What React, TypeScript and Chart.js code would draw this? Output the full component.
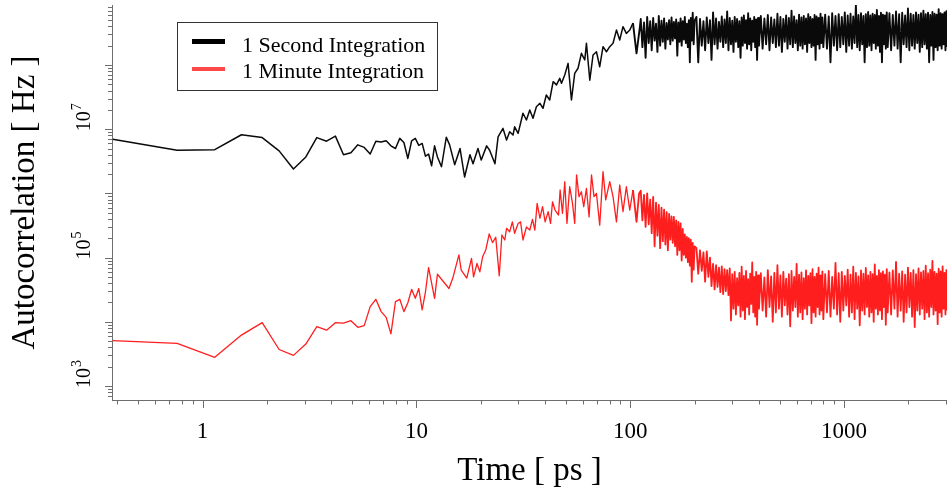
import { useEffect, useRef } from "react";
import { Chart, registerables } from "chart.js";

Chart.register(...registerables);

// ---------------- data ----------------
const seriesLabels = ["1 Second Integration", "1 Minute Integration"];

// 1 Second Integration (black), sparse/mid part
const secondTimes = [
  0.38, 0.76, 1.14, 1.52, 1.9, 2.28, 2.66, 3.04, 3.42, 3.8, 4.18, 4.56, 4.94, 5.32, 5.7, 6.08, 6.46, 6.84,
  7.22, 7.6, 7.98, 8.36, 8.74, 9.12, 9.5, 9.88, 10.26, 10.64, 11.02, 11.4, 11.78, 12.16, 12.54,
  13.1, 13.8, 14.3, 15.1, 16.0, 16.8, 17.8, 18.4, 19.4, 20.1, 21.3, 22.0, 23.3, 24.1, 25.4, 26.4, 27.3, 28.3,
  28.8, 29.9, 31.5, 32.7, 33.9, 35.1, 36.4, 37.8, 39.1, 40.5, 42.0, 43.6, 45.2, 46.8, 47.7, 49.4, 51.2, 53.1,
  55.0, 57.0, 59.1, 61.3, 62.4, 64.7, 67.0, 69.5, 72.0, 74.6, 77.4, 80.2, 83.1, 86.2, 89.3, 92.5, 95.9, 99.5,
  103, 107, 111,
];
const secondValues = [
  7.0e6, 4.7e6, 4.8e6, 8.2e6, 7.4e6, 4.6e6, 2.4e6, 3.7e6, 7.4e6, 6.5e6, 7.8e6, 4.0e6, 4.3e6, 5.7e6, 5.2e6, 4.1e6,
  6.5e6, 6.3e6, 6.6e6, 5.5e6, 5.0e6, 7.2e6, 6.2e6, 3.5e6, 6.6e6, 7.2e6, 5.6e6, 6.0e6, 3.8e6, 4.1e6, 2.7e6, 5.5e6,
  3.7e6,
  2.6e6, 7.5e6, 5.7e6, 2.8e6, 5.0e6, 1.8e6, 4.0e6, 2.9e6, 5.0e6, 3.3e6, 5.5e6, 4.7e6, 2.9e6, 7.6e6, 1.03e7, 6.8e6,
  9.1e6, 8.1e6, 1.09e7, 8.6e6, 1.77e7, 1.39e7, 1.99e7, 1.48e7, 2.24e7, 2.53e7, 2.12e7, 3.41e7, 2.85e7, 5.5e7,
  4.9e7, 6.2e7, 5.2e7, 7.0e7, 1.06e8, 2.85e7, 7.4e7, 8.9e7, 1.52e8, 1.2e8, 2.18e8, 5.8e7, 1.43e8, 1.61e8, 9.4e7,
  1.93e8, 1.61e8, 1.93e8, 2.18e8, 3.5e8, 2.45e8, 3.95e8, 3.1e8, 3.5e8, 4.5e8, 1.52e8, 3.95e8,
];

// 1 Minute Integration (red), sparse/mid part
const minuteTimes = [
  0.38, 0.76, 1.14, 1.52, 1.9, 2.28, 2.66, 3.04, 3.42, 3.8, 4.18, 4.56, 4.94, 5.32, 5.7, 6.08, 6.46, 6.84,
  7.22, 7.6, 7.98, 8.36, 8.74, 9.12, 9.5, 9.88, 10.26, 10.64, 11.02, 11.4, 11.78, 12.16, 12.54,
  14.2, 14.8, 15.8, 16.2, 17.2, 18.1, 18.5, 19.2, 19.8, 20.4, 21.1, 21.9, 22.7, 23.5, 24.4, 25.1, 25.9, 26.4,
  27.3, 28.1, 28.8, 29.9, 30.7, 31.5, 32.7, 33.9, 34.9, 35.8, 36.7, 37.8, 38.9, 40.0, 41.3, 42.4, 43.3, 44.5,
  46.2, 47.0, 48.2, 49.4, 50.6, 52.1, 53.7, 55.0, 56.1, 57.6, 59.1, 60.6, 62.4, 64.2, 65.9, 67.7, 69.5, 72.0,
  74.6, 76.8, 80.2, 83.1, 86.2, 89.3, 92.5, 95.9, 99.5, 103, 107, 110,
];
const minuteValues = [
  5.1e3, 4.6e3, 2.8e3, 6.2e3, 9.7e3, 3.7e3, 3.0e3, 4.5e3, 8.4e3, 7.4e3, 9.7e3, 9.5e3, 1.04e4, 8.2e3, 8.7e3,
  1.72e4, 2.24e4, 1.44e4, 1.17e4, 6.5e3, 2.06e4, 2.24e4, 1.44e4, 1.98e4, 3.2e4, 2.32e4, 3.3e4, 1.53e4, 2.9e4,
  7.0e4, 4.0e4, 2.32e4, 5.5e4,
  3.3e4, 4.8e4, 1.1e5, 6.4e4, 4.8e4, 9.7e4, 5.0e4, 8.1e4, 6.0e4, 1.03e5, 1.31e5, 2.33e5, 1.71e5, 2.07e5, 5.2e4,
  2.25e5, 1.88e5, 2.86e5, 2.53e5, 3.6e5, 2.39e5, 3.4e5, 3.6e5, 1.88e5, 3.0e5, 2.69e5, 3.95e5, 2.69e5, 7.0e5,
  4.1e5, 6.2e5, 3.6e5, 5.2e5, 3.4e5, 7.4e5, 5.5e5, 4.6e5, 1.13e6, 4.9e5, 1.52e6, 3.4e5, 1.27e6, 7.0e5, 3.4e5,
  1.94e6, 8.9e5, 1.06e6, 6.2e5, 1.2e6, 4.3e5, 1.94e6, 8.9e5, 1.0e6, 3.2e5, 2.18e6, 7.9e5, 1.52e6, 8.9e5, 3.6e5,
  1.35e6, 5.2e5, 1.27e6, 5.5e5, 1.13e6, 3.6e5, 1.0e6,
];

// dense part, shared sampling times (ps)
const bandTimes = [
  112, 114, 116, 118, 120, 122, 124, 126, 128, 130, 132, 134, 136, 138, 140, 142, 144, 146, 148, 150, 152, 154,
  156, 158, 160, 162, 164, 166, 168, 170, 172, 174, 176, 178, 180, 182, 184, 186, 188, 190, 192, 194, 196, 198, 200,
  204, 208, 212, 216, 220, 224, 228, 232, 236, 240, 244, 248, 252, 256, 260, 264, 268, 272, 276, 280, 284, 288,
  292, 296, 300, 304, 308, 312, 316, 320, 324, 328, 332, 336, 340, 344, 348, 352, 356, 360, 364, 368, 372, 376,
  380, 384, 388, 392, 396, 400,
  408, 416, 424, 432, 440, 448, 456, 464, 472, 480, 488, 496, 504, 512, 520, 528, 536, 544, 552, 560, 568, 576,
  584, 592, 600, 608, 616, 624, 632, 640, 648, 656, 664, 672, 680, 688, 696, 704, 712, 720, 728, 736, 744, 752,
  760, 768, 776, 784, 792, 800,
  816, 832, 848, 864, 880, 896, 912, 928, 944, 960, 976, 992, 1008, 1024, 1040, 1056, 1072, 1088, 1104, 1120,
  1136, 1152, 1168, 1184, 1200, 1216, 1232, 1248, 1264, 1280, 1296, 1312, 1328, 1344, 1360, 1376, 1392, 1408,
  1424, 1440, 1456, 1472, 1488, 1504, 1520, 1536, 1552, 1568, 1584, 1600,
  1630, 1660, 1690, 1720, 1750, 1780, 1810, 1840, 1870, 1900, 1930, 1960, 1990, 2020, 2050, 2080, 2110, 2140,
  2170, 2200, 2230, 2260, 2290, 2320, 2350, 2380, 2410, 2440, 2470, 2500, 2530, 2560, 2590, 2620, 2650, 2680,
  2710, 2740, 2770, 2800, 2830, 2860, 2890, 2920, 2950, 2980, 3010, 3040,
];
const secondBand = [
  5.2e8, 1.9e8, 4.6e8, 1.3e8, 5.6e8, 2.2e8, 4.8e8, 1.7e8, 5.4e8, 2.4e8, 4.4e8, 1.6e8, 5.8e8, 2.0e8, 4.9e8, 2.3e8,
  5.3e8, 1.8e8, 4.5e8, 2.5e8, 5.0e8, 2.1e8, 5.5e8, 2.4e8, 4.7e8, 2.6e8, 5.1e8, 1.4e8, 4.6e8, 2.3e8, 5.3e8, 2.0e8,
  4.8e8, 2.5e8, 5.6e8, 2.2e8, 4.4e8, 1.9e8, 5.0e8, 1.1e8, 5.4e8, 2.4e8, 6.5e8, 2.1e8, 4.9e8,
  5.6e8, 1.1e8, 5.2e8, 2.0e8, 4.8e8, 1.7e8, 5.5e8, 2.2e8, 5.0e8, 1.2e8, 6.6e8, 2.1e8, 5.3e8, 1.8e8, 4.7e8, 2.3e8,
  5.7e8, 1.9e8, 5.1e8, 2.2e8, 6.8e8, 1.7e8, 5.4e8, 2.1e8, 4.9e8, 1.6e8, 5.6e8, 2.3e8, 5.2e8, 1.9e8, 4.8e8, 1.3e8,
  5.5e8, 2.0e8, 5.9e8, 2.2e8, 5.0e8, 1.8e8, 6.4e8, 2.1e8, 5.3e8, 1.7e8, 4.9e8, 2.3e8, 5.6e8, 1.9e8, 5.1e8, 1.2e8,
  5.4e8, 2.0e8,
  5.8e8, 1.8e8, 5.3e8, 2.1e8, 6.0e8, 1.7e8, 5.5e8, 2.2e8, 5.1e8, 1.9e8, 6.3e8, 2.0e8, 5.6e8, 1.6e8, 5.2e8, 2.3e8,
  5.9e8, 1.8e8, 5.4e8, 2.1e8, 7.0e8, 1.9e8, 5.7e8, 2.2e8, 5.0e8, 1.7e8, 6.1e8, 2.0e8, 5.5e8, 1.8e8, 5.8e8, 2.1e8,
  5.3e8, 1.6e8, 6.2e8, 2.2e8, 5.6e8, 1.9e8, 5.2e8, 2.0e8, 6.0e8, 1.2e8, 5.7e8, 2.1e8, 5.4e8, 1.8e8, 6.3e8, 2.2e8,
  5.5e8, 1.9e8,
  6.1e8, 1.8e8, 5.7e8, 1.1e8, 6.4e8, 2.0e8, 5.8e8, 1.7e8, 6.2e8, 1.9e8, 5.6e8, 2.1e8, 6.6e8, 1.6e8, 5.9e8, 2.0e8,
  6.3e8, 1.8e8, 5.7e8, 2.2e8, 8.6e8, 1.9e8, 6.0e8, 1.7e8, 6.4e8, 2.1e8, 5.8e8, 1.1e8, 6.2e8, 1.9e8, 6.7e8, 2.0e8,
  5.9e8, 1.7e8, 6.3e8, 2.2e8, 6.0e8, 1.8e8, 7.2e8, 2.0e8, 5.8e8, 1.6e8, 6.5e8, 1.1e8, 6.1e8, 2.1e8, 5.9e8, 1.8e8,
  6.6e8, 1.9e8,
  6.4e8, 1.7e8, 6.0e8, 2.0e8, 6.8e8, 1.8e8, 6.2e8, 1.1e8, 6.5e8, 2.1e8, 5.9e8, 1.9e8, 7.6e8, 1.7e8, 6.3e8, 2.0e8,
  6.0e8, 1.8e8, 6.6e8, 2.2e8, 6.1e8, 1.6e8, 6.4e8, 1.9e8, 7.0e8, 2.1e8, 6.2e8, 1.8e8, 6.5e8, 1.1e8, 6.0e8, 2.0e8,
  6.7e8, 1.2e8, 6.3e8, 1.9e8, 6.1e8, 1.7e8, 7.4e8, 2.0e8, 6.4e8, 1.8e8, 6.2e8, 2.1e8, 6.6e8, 1.7e8, 6.9e8, 1.9e8,
];
const minuteBand = [
  1.1e6, 3.8e5, 9.5e5, 3.0e5, 1.0e6, 3.3e5, 8.0e5, 2.4e5, 8.8e5, 1.5e5, 7.2e5, 2.2e5, 6.6e5, 1.4e5, 6.0e5, 1.8e5,
  5.6e5, 1.6e5, 5.1e5, 1.3e5, 4.8e5, 1.9e5, 4.4e5, 1.7e5, 4.3e5, 1.5e5, 3.8e5, 1.1e5, 3.6e5, 1.3e5, 3.4e5, 9.0e4,
  2.8e5, 1.1e5, 2.3e5, 1.0e5, 2.1e5, 8.5e4, 2.0e5, 7.5e4, 1.9e5, 4.2e4, 1.7e5, 6.5e4, 1.5e5,
  1.4e5, 5.6e4, 1.3e5, 6.2e4, 1.2e5, 4.2e4, 1.25e5, 5.0e4, 1.0e5, 3.6e4, 8.0e4, 3.2e4, 7.6e4, 3.5e4, 7.0e4, 2.9e4,
  7.3e4, 2.7e4, 6.6e4, 3.0e4, 6.4e4, 2.6e4, 6.8e4, 1.05e4, 5.5e4, 1.6e4, 6.0e4, 1.3e4, 4.8e4, 1.8e4, 5.8e4, 1.2e4,
  7.2e4, 1.5e4, 5.2e4, 1.1e4, 6.2e4, 1.7e4, 4.6e4, 1.3e4, 5.6e4, 1.9e4, 8.4e4, 1.4e4, 5.0e4, 1.2e4, 6.0e4, 9.0e3,
  5.3e4, 1.6e4,
  5.7e4, 1.5e4, 4.9e4, 1.2e4, 6.4e4, 1.7e4, 5.1e4, 1.0e4, 5.8e4, 1.4e4, 7.6e4, 1.6e4, 5.3e4, 1.2e4, 6.0e4, 1.8e4,
  4.7e4, 1.3e4, 5.5e4, 8.5e3, 6.2e4, 1.5e4, 5.0e4, 1.7e4, 8.0e4, 1.2e4, 5.4e4, 1.4e4, 5.9e4, 1.1e4, 4.8e4, 1.6e4,
  6.3e4, 1.3e4, 5.2e4, 1.8e4, 5.7e4, 9.5e3, 6.6e4, 1.4e4, 5.0e4, 1.2e4, 5.6e4, 1.7e4, 7.0e4, 1.3e4, 5.3e4, 1.5e4,
  6.1e4, 1.1e4,
  5.5e4, 1.4e4, 6.2e4, 1.2e4, 5.0e4, 1.6e4, 8.3e4, 1.3e4, 5.7e4, 1.0e4, 6.0e4, 1.5e4, 5.2e4, 1.8e4, 6.5e4, 1.2e4,
  5.4e4, 1.4e4, 7.2e4, 1.1e4, 5.8e4, 1.6e4, 5.1e4, 8.8e3, 6.3e4, 1.5e4, 5.6e4, 1.3e4, 6.9e4, 1.7e4, 5.3e4, 1.2e4,
  6.0e4, 1.4e4, 5.5e4, 1.0e4, 7.8e4, 1.6e4, 5.2e4, 1.3e4, 6.4e4, 1.5e4, 5.7e4, 1.1e4, 6.1e4, 1.7e4, 5.4e4, 9.0e3,
  6.6e4, 1.4e4,
  5.9e4, 1.3e4, 6.3e4, 1.6e4, 8.6e4, 1.2e4, 5.6e4, 1.5e4, 6.1e4, 1.0e4, 5.4e4, 1.4e4, 7.0e4, 1.7e4, 5.8e4, 1.2e4,
  6.4e4, 8.3e3, 5.5e4, 1.5e4, 6.8e4, 1.3e4, 5.9e4, 1.6e4, 6.2e4, 1.1e4, 7.5e4, 1.4e4, 5.7e4, 1.2e4, 6.5e4, 1.7e4,
  8.9e4, 1.3e4, 6.0e4, 1.5e4, 5.6e4, 9.2e3, 6.7e4, 1.4e4, 6.1e4, 1.2e4, 7.3e4, 1.6e4, 5.8e4, 1.3e4, 6.4e4, 1.5e4,
];

// axis ticks
const xMajorTicks = [1, 10, 100, 1000];
const xTickLabels = ["1", "10", "100", "1000"];
const xMinorTicks = [
  0.4, 0.5, 0.6, 0.7, 0.8, 0.9, 2, 3, 4, 5, 6, 7, 8, 9, 20, 30, 40, 50, 60, 70, 80, 90,
  200, 300, 400, 500, 600, 700, 800, 900, 2000, 3000,
];
const yMajorTicks = [1e3, 1e4, 1e5, 1e6, 1e7, 1e8];
const yMinorTicks = [
  7e2, 8e2, 9e2, 2e3, 3e3, 4e3, 5e3, 6e3, 7e3, 8e3, 9e3, 2e4, 3e4, 4e4, 5e4, 6e4, 7e4, 8e4, 9e4,
  2e5, 3e5, 4e5, 5e5, 6e5, 7e5, 8e5, 9e5, 2e6, 3e6, 4e6, 5e6, 6e6, 7e6, 8e6, 9e6,
  2e7, 3e7, 4e7, 5e7, 6e7, 7e7, 8e7, 9e7, 2e8, 3e8, 4e8, 5e8, 6e8, 7e8, 8e8,
];
const yLabelValues = [1e3, 1e5, 1e7];
const yLabelBase = "10";
const yLabelExponents = ["3", "5", "7"];

// ---------------- styling ----------------
const FONT = '"Liberation Serif", "Times New Roman", serif';
const AXIS_COLOR = "#6e6e6e";
const LINE_COLORS = ["#0a0a0a", "#ff1e1e"];
const LEGEND_COLORS = ["#000000", "#ff4848"];
const LINE_WIDTHS = [1.5, 1.3];
const DENSE_WIDTHS = [1.9, 1.8];
const DENSE_FROM = 100;

function toPoints(times: number[], values: number[]) {
  const n = Math.min(times.length, values.length);
  const out: { x: number; y: number }[] = [];
  for (let i = 0; i < n; i++) out.push({ x: times[i], y: values[i] });
  return out;
}

const decorPlugin = {
  id: "decor",
  afterDraw(chart: any) {
    const { ctx, chartArea } = chart;
    const xs = chart.scales.x;
    const ys = chart.scales.y;
    ctx.save();
    // tick marks
    ctx.strokeStyle = AXIS_COLOR;
    ctx.lineWidth = 1;
    ctx.beginPath();
    xs.ticks.forEach((t: any) => {
      const px = Math.round(xs.getPixelForValue(t.value)) + 0.5;
      const len = xMajorTicks.includes(t.value) ? 8 : 4.5;
      ctx.moveTo(px, chartArea.bottom);
      ctx.lineTo(px, chartArea.bottom + len);
    });
    ys.ticks.forEach((t: any) => {
      const py = Math.round(ys.getPixelForValue(t.value)) + 0.5;
      const len = yMajorTicks.includes(t.value) ? 7 : 4;
      ctx.moveTo(chartArea.left, py);
      ctx.lineTo(chartArea.left - len, py);
    });
    ctx.stroke();

    // y tick labels (rotated, with superscript exponent)
    ctx.fillStyle = "#000";
    ctx.textAlign = "left";
    ctx.textBaseline = "alphabetic";
    yLabelValues.forEach((v, i) => {
      const py = ys.getPixelForValue(v);
      ctx.save();
      ctx.translate(90, py + 2);
      ctx.rotate(-Math.PI / 2);
      ctx.font = `20px ${FONT}`;
      ctx.fillText(yLabelBase, 0, 0);
      const w = ctx.measureText(yLabelBase).width;
      ctx.font = `14px ${FONT}`;
      ctx.fillText(yLabelExponents[i], w + 1, -9);
      ctx.restore();
    });

    // legend
    const lx = 177.5, ly = 22.5, lw = 260, lh = 68;
    ctx.strokeStyle = "#333";
    ctx.lineWidth = 1;
    ctx.strokeRect(lx, ly, lw, lh);
    chart.data.datasets.forEach((ds: any, i: number) => {
      const sy = 41.5 + i * 27.5;
      ctx.strokeStyle = LEGEND_COLORS[i];
      ctx.lineWidth = i === 0 ? 5 : 4;
      ctx.lineCap = "butt";
      ctx.beginPath();
      ctx.moveTo(192, sy);
      ctx.lineTo(225, sy);
      ctx.stroke();
      ctx.fillStyle = "#000";
      ctx.font = `22px ${FONT}`;
      ctx.textAlign = "left";
      ctx.textBaseline = "alphabetic";
      ctx.fillText(ds.label, 242, 52 + i * 25.5);
    });
    ctx.restore();
  },
};

function makeDataset(i: number, data: { x: number; y: number }[]) {
  return {
    label: seriesLabels[i],
    data,
    borderColor: LINE_COLORS[i],
    borderWidth: LINE_WIDTHS[i],
    pointRadius: 0,
    fill: false,
    tension: 0,
    borderJoinStyle: "round",
    segment: {
      borderWidth: (c: any) => (c.p0.parsed.x >= DENSE_FROM ? DENSE_WIDTHS[i] : undefined),
    },
  };
}

export default function App() {
  const canvasRef = useRef<HTMLCanvasElement | null>(null);

  useEffect(() => {
    document.body.style.margin = "0";
    const secondPoints = [...toPoints(secondTimes, secondValues), ...toPoints(bandTimes, secondBand)];
    const minutePoints = [...toPoints(minuteTimes, minuteValues), ...toPoints(bandTimes, minuteBand)];

    const chart = new Chart(canvasRef.current as HTMLCanvasElement, {
      type: "line",
      data: {
        datasets: [makeDataset(0, secondPoints), makeDataset(1, minutePoints)],
      },
      options: {
        animation: false,
        responsive: true,
        maintainAspectRatio: false,
        events: [],
        layout: { padding: { top: 5, left: 0, right: 0, bottom: 0 } },
        plugins: { legend: { display: false }, tooltip: { enabled: false } },
        scales: {
          x: {
            type: "logarithmic",
            position: "bottom",
            min: 0.377,
            max: 3030,
            afterBuildTicks: (scale: any) => {
              scale.ticks = [...xMinorTicks, ...xMajorTicks].sort((a, b) => a - b).map((v) => ({ value: v }));
            },
            afterFit: (scale: any) => {
              scale.height = 89;
              scale.paddingLeft = 0;
              scale.paddingRight = 0;
            },
            grid: { display: false, drawTicks: false },
            border: { display: true, color: AXIS_COLOR, width: 1 },
            ticks: {
              autoSkip: false,
              maxRotation: 0,
              minRotation: 0,
              padding: 20.5,
              color: "#000",
              font: { family: FONT, size: 23, lineHeight: 1 },
              callback: (value: any) => {
                const idx = xMajorTicks.indexOf(Number(value));
                return idx >= 0 ? xTickLabels[idx] : "";
              },
            },
            title: {
              display: true,
              text: "Time [ ps ]",
              color: "#000",
              font: { family: FONT, size: 33, lineHeight: 1 },
              padding: { top: 0, bottom: 1.5 },
            },
          },
          y: {
            type: "logarithmic",
            position: "left",
            min: 605,
            max: 8.6e8,
            afterBuildTicks: (scale: any) => {
              scale.ticks = [...yMinorTicks, ...yMajorTicks].sort((a, b) => a - b).map((v) => ({ value: v }));
            },
            afterFit: (scale: any) => {
              scale.width = 112;
              scale.paddingTop = 0;
              scale.paddingBottom = 0;
            },
            grid: { display: false, drawTicks: false },
            border: { display: true, color: AXIS_COLOR, width: 1 },
            ticks: { display: false },
            title: {
              display: true,
              text: "Autocorrelation [ Hz ]",
              color: "#000",
              font: { family: FONT, size: 33, lineHeight: 1 },
              padding: { top: 9, bottom: 0 },
            },
          },
        },
      },
      plugins: [decorPlugin],
    } as any);

    return () => chart.destroy();
  }, []);

  return (
    <div style={{ position: "relative", width: 947, height: 489 }}>
      <canvas ref={canvasRef} />
    </div>
  );
}
